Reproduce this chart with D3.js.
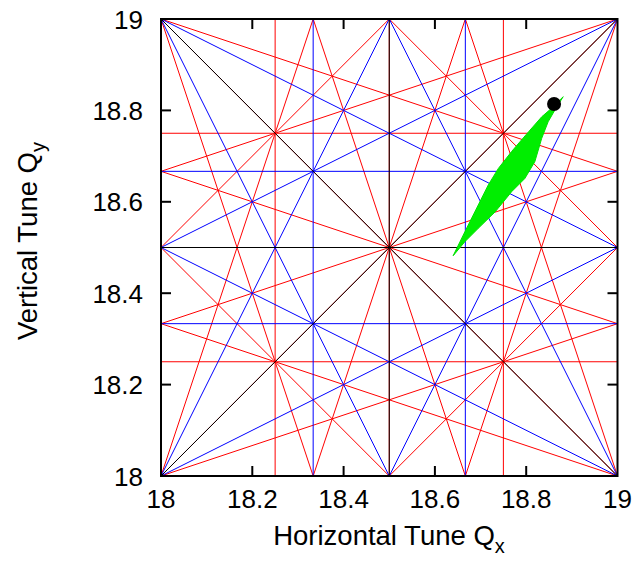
<!DOCTYPE html>
<html>
<head>
<meta charset="utf-8">
<script src="https://cdn.jsdelivr.net/npm/d3@7"></script>
<style>
  body { margin: 0; background: #fff; }
  text { font-family: "Liberation Sans", Arial, sans-serif; fill: #000; }
</style>
</head>
<body>
<div id="tune_plot"></div>
<script>
// resonance coefficients (a, b) for a*Qx + b*Qy = n, grouped by order
var order2 = [[2, 0], [0, 2], [1, 1], [1, -1]],
  order3 = [[3, 0], [0, 3], [2, 1], [1, 2], [2, -1], [1, -2]],
  order4 = [[4, 0], [0, 4], [3, 1], [1, 3], [2, 2], [3, -1], [1, -3], [2, -2]];

// tune footprint outline (left edge up, right edge down)
var footQx = [18.640, 18.666, 18.695, 18.717, 18.739, 18.768, 18.805, 18.834, 18.856, 18.881,
  18.863, 18.848, 18.834, 18.819, 18.797, 18.768, 18.732, 18.695, 18.666];
var footQy = [18.482, 18.535, 18.593, 18.637, 18.673, 18.710, 18.753, 18.786, 18.805, 18.830,
  18.801, 18.775, 18.739, 18.688, 18.651, 18.622, 18.578, 18.542, 18.513];

// working point
var workQx = [18.861],
  workQy = [18.814];

var tickVals = [18, 18.2, 18.4, 18.6, 18.8, 19],
  tuneRange = [18, 19];

var svg_dx = 638,
  svg_dy = 563,
  plot_left = 161,
  plot_right = 617.5,
  plot_top = 19,
  plot_bottom = 476;

var x = d3.scaleLinear().domain(tuneRange).range([plot_left, plot_right]),
  y = d3.scaleLinear().domain(tuneRange).range([plot_bottom, plot_top]);

var svg = d3.select("#tune_plot")
  .append("svg")
  .attr("width", svg_dx)
  .attr("height", svg_dy);

svg.append("clipPath")
  .attr("id", "clip")
  .append("rect")
  .attr("x", plot_left)
  .attr("y", plot_top)
  .attr("width", plot_right - plot_left)
  .attr("height", plot_bottom - plot_top);

var plot = svg.append("g").attr("clip-path", "url(#clip)");

// turn a list of coefficients into every line that crosses the window
function resonanceLines(coeffs) {
  var out = [];
  coeffs.forEach(function(c) {
    var a = c[0], b = c[1];
    var vals = [];
    tuneRange.forEach(function(qx) {
      tuneRange.forEach(function(qy) { vals.push(a * qx + b * qy); });
    });
    var lo = Math.ceil(d3.min(vals) - 1e-9), hi = Math.floor(d3.max(vals) + 1e-9);
    for (var n = lo; n <= hi; n++) {
      if (b === 0) {
        var q = n / a;
        out.push([[q, tuneRange[0]], [q, tuneRange[1]]]);
      } else {
        var x0 = tuneRange[0] - 1, x1 = tuneRange[1] + 1;
        out.push([[x0, (n - a * x0) / b], [x1, (n - a * x1) / b]]);
      }
    }
  });
  return out;
}

var line = d3.line()
  .x(function(d) { return x(d[0]); })
  .y(function(d) { return y(d[1]); });

// higher order first so the low order lines sit on top
[[order4, "#ff0000"], [order3, "#0000ff"], [order2, "#000000"]].forEach(function(grp) {
  plot.append("g")
    .selectAll("path")
    .data(resonanceLines(grp[0]))
    .enter()
    .append("path")
    .attr("d", line)
    .attr("fill", "none")
    .attr("stroke", grp[1])
    .attr("stroke-width", 1);
});

// footprint
var footPts = footQx.map(function(q, i) { return [q, footQy[i]]; });
var area = d3.line()
  .x(function(d) { return x(d[0]); })
  .y(function(d) { return y(d[1]); })
  .curve(d3.curveLinearClosed);
plot.append("path")
  .datum(footPts)
  .attr("d", area)
  .attr("fill", "#00ee00")
  .attr("stroke", "#00e000")
  .attr("stroke-width", 1);

plot.selectAll("circle")
  .data(workQx)
  .enter()
  .append("circle")
  .attr("cx", function(d) { return x(d); })
  .attr("cy", function(d, i) { return y(workQy[i]); })
  .attr("r", 7)
  .attr("fill", "#000");

// ticks point inwards on all four sides
var inner = tickVals.slice(1, -1);
var tk = svg.append("g").attr("stroke", "#000").attr("stroke-width", 2);
inner.forEach(function(v) {
  tk.append("line").attr("x1", x(v)).attr("x2", x(v)).attr("y1", plot_bottom).attr("y2", plot_bottom - 10);
  tk.append("line").attr("x1", x(v)).attr("x2", x(v)).attr("y1", plot_top).attr("y2", plot_top + 10);
  tk.append("line").attr("y1", y(v)).attr("y2", y(v)).attr("x1", plot_left).attr("x2", plot_left + 10);
  tk.append("line").attr("y1", y(v)).attr("y2", y(v)).attr("x1", plot_right).attr("x2", plot_right - 10);
});

svg.append("rect")
  .attr("x", plot_left)
  .attr("y", plot_top)
  .attr("width", plot_right - plot_left)
  .attr("height", plot_bottom - plot_top)
  .attr("fill", "none")
  .attr("stroke", "#000")
  .attr("stroke-width", 2);

// tick labels
svg.append("g")
  .selectAll("text")
  .data(tickVals)
  .enter()
  .append("text")
  .attr("x", function(d) { return x(d); })
  .attr("y", 508)
  .attr("text-anchor", "middle")
  .attr("font-size", 26)
  .text(function(d) { return d3.format("")(d); });

svg.append("g")
  .selectAll("text")
  .data(tickVals)
  .enter()
  .append("text")
  .attr("x", 143)
  .attr("y", function(d) { return y(d) + 9.5; })
  .attr("text-anchor", "end")
  .attr("font-size", 26)
  .text(function(d) { return d3.format("")(d); });

// axis titles
var xt = svg.append("text")
  .attr("x", 389)
  .attr("y", 545)
  .attr("text-anchor", "middle")
  .attr("font-size", 27.5);
xt.append("tspan").text("Horizontal Tune Q");
xt.append("tspan").attr("font-size", 20).attr("dy", 8).text("x");

var yt = svg.append("text")
  .attr("transform", "translate(37,241) rotate(-90)")
  .attr("text-anchor", "middle")
  .attr("font-size", 27.5);
yt.append("tspan").text("Vertical Tune Q");
yt.append("tspan").attr("font-size", 20).attr("dy", 8).text("y");
</script>
</body>
</html>
